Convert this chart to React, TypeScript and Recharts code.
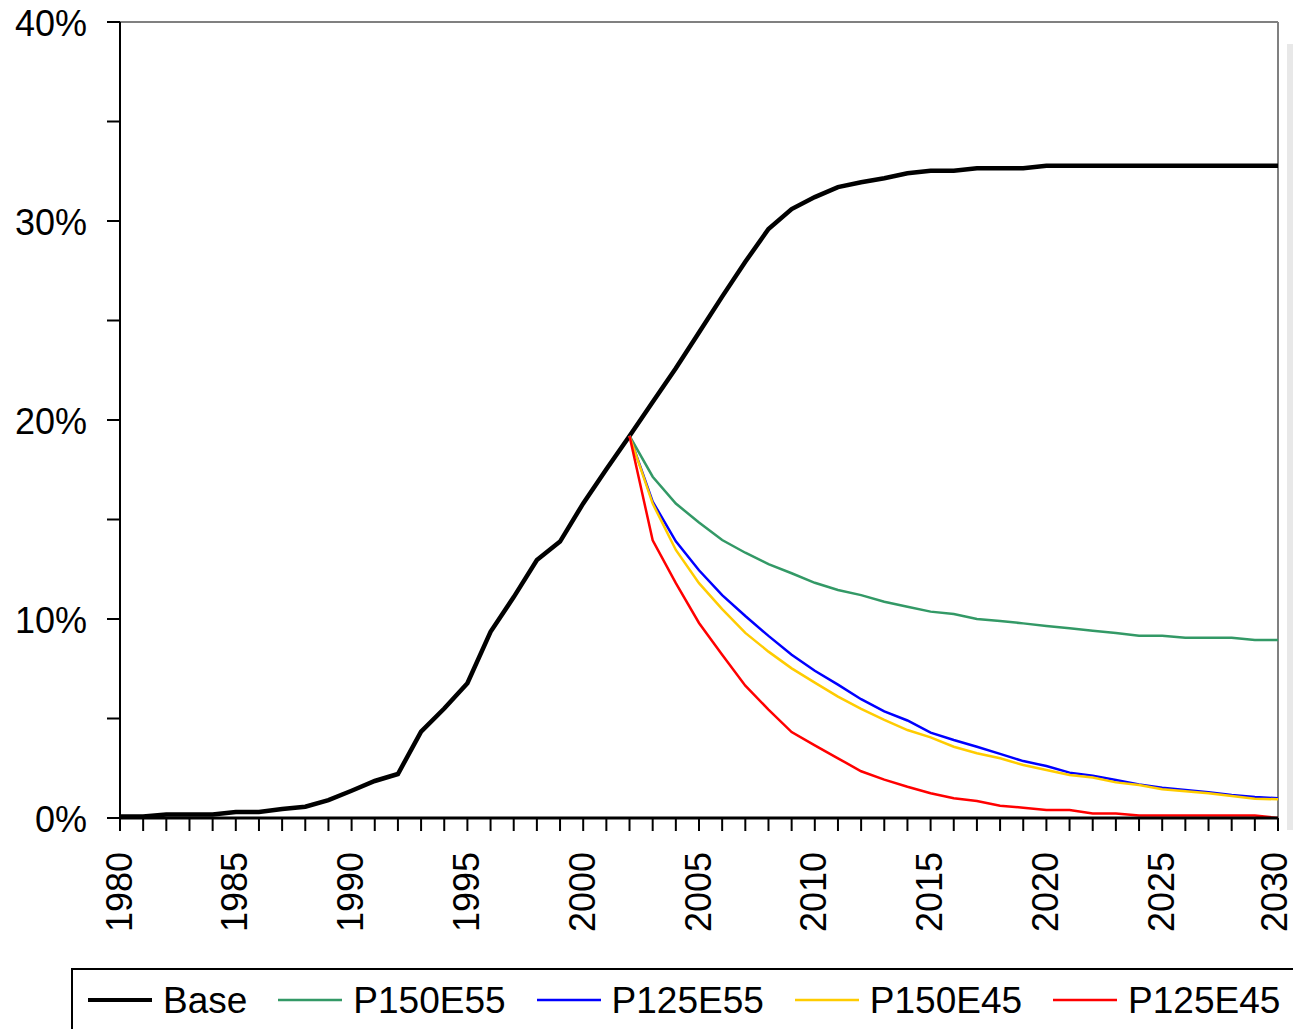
import React from "react";
import { LineChart, Line, XAxis, YAxis, ReferenceLine } from "recharts";

const FONT = "'Liberation Sans', Arial, sans-serif";

const YEARS = Array.from({ length: 51 }, (_, i) => 1980 + i);
const Y_TICKS = [0, 5, 10, 15, 20, 25, 30, 35, 40];
const SCENARIO_START = 2002;

const BASE = [
  0.07, 0.07, 0.18, 0.18, 0.18, 0.3, 0.3, 0.45, 0.57, 0.9,
  1.37, 1.86, 2.21, 4.34, 5.5, 6.77, 9.36, 11.1, 12.96, 13.89,
  15.81, 17.52, 19.2, 20.9, 22.6, 24.4, 26.2, 27.95, 29.6, 30.6,
  31.2, 31.7, 31.95, 32.15, 32.4, 32.53, 32.53, 32.65, 32.65, 32.65,
  32.78, 32.78, 32.78, 32.78, 32.78, 32.78, 32.78, 32.78, 32.78, 32.78, 32.78,
];

// 2002 - 2030
const P150E55 = [
  19.2, 17.15, 15.8, 14.85, 13.97, 13.33, 12.76, 12.3, 11.82, 11.46,
  11.2, 10.87, 10.62, 10.37, 10.25, 10.0, 9.9, 9.78, 9.65, 9.53,
  9.41, 9.3, 9.16, 9.16, 9.06, 9.06, 9.06, 8.94, 8.94,
];
const P125E55 = [
  19.2, 15.9, 13.9, 12.45, 11.2, 10.15, 9.15, 8.2, 7.4, 6.7,
  5.97, 5.36, 4.9, 4.29, 3.92, 3.58, 3.22, 2.86, 2.61, 2.28,
  2.13, 1.91, 1.69, 1.52, 1.41, 1.29, 1.16, 1.06, 0.99,
];
const P150E45 = [
  19.2, 15.8, 13.47, 11.8, 10.5, 9.3, 8.36, 7.52, 6.8, 6.1,
  5.48, 4.93, 4.42, 4.05, 3.58, 3.25, 3.0, 2.66, 2.41, 2.16,
  2.04, 1.79, 1.66, 1.44, 1.34, 1.24, 1.11, 0.97, 0.94,
];
const P125E45 = [
  19.2, 13.95, 11.8, 9.8, 8.2, 6.65, 5.45, 4.32, 3.65, 3.0,
  2.35, 1.93, 1.57, 1.24, 0.99, 0.85, 0.62, 0.52, 0.4, 0.4,
  0.23, 0.23, 0.12, 0.12, 0.12, 0.12, 0.12, 0.12, 0.0,
];

const SERIES = [
  { key: "base", name: "Base", color: "#000000", width: 4.5, values: BASE, start: 1980 },
  { key: "p150e55", name: "P150E55", color: "#339966", width: 2.5, values: P150E55, start: SCENARIO_START },
  { key: "p125e55", name: "P125E55", color: "#0000ff", width: 2.5, values: P125E55, start: SCENARIO_START },
  { key: "p150e45", name: "P150E45", color: "#ffcc00", width: 2.5, values: P150E45, start: SCENARIO_START },
  { key: "p125e45", name: "P125E45", color: "#ff0000", width: 2.5, values: P125E45, start: SCENARIO_START },
];

const data = YEARS.map((year) => {
  const row: Record<string, number | null> = { year };
  SERIES.forEach((s) => {
    const idx = year - s.start;
    row[s.key] = idx >= 0 && idx < s.values.length ? s.values[idx] : null;
  });
  return row;
});

function YTick(props: any) {
  const { x, y, payload } = props;
  const v = payload.value;
  return (
    <g>
      <line x1={x - 13} x2={x} y1={y} y2={y} stroke="#000" strokeWidth={2} />
      {v % 10 === 0 && (
        <text x={x - 33} y={y} dy="0.38em" textAnchor="end" fontSize={36} fontFamily={FONT} fill="#000">
          {v}%
        </text>
      )}
    </g>
  );
}

function XTick(props: any) {
  const { x, y, payload } = props;
  const year = payload.value;
  // last label sits against the right edge; pull it in a touch so it stays whole
  const tx = year === YEARS[YEARS.length - 1] ? x - 3 : x;
  return (
    <g>
      <line x1={x} x2={x} y1={y} y2={y + 13} stroke="#000" strokeWidth={2} />
      {year % 5 === 0 && (
        <text
          transform={`translate(${tx},${y + 34}) rotate(-90)`}
          dy="0.32em"
          textAnchor="end"
          fontSize={36}
          fontFamily={FONT}
          fill="#000"
        >
          {year}
        </text>
      )}
    </g>
  );
}

function ChartLegend() {
  return (
    <div
      style={{
        position: "absolute",
        left: 71,
        top: 968,
        width: 1260,
        height: 90,
        border: "2px solid #000",
        boxSizing: "border-box",
        display: "flex",
        alignItems: "flex-start",
        paddingLeft: 15,
        fontFamily: FONT,
        fontSize: 37,
        color: "#000",
      }}
    >
      {SERIES.map((s) => (
        <div key={s.key} style={{ display: "flex", alignItems: "center", height: 60, marginRight: 31 }}>
          <svg width={64} height={10} style={{ marginRight: 11 }}>
            <line x1={0} x2={64} y1={5} y2={5} stroke={s.color} strokeWidth={s.key === "base" ? 4 : 2.5} />
          </svg>
          <span style={{ lineHeight: 1 }}>{s.name}</span>
        </div>
      ))}
    </div>
  );
}

export default function App() {
  return (
    <div
      style={{
        position: "absolute",
        left: 0,
        top: 0,
        width: 1293,
        height: 1029,
        overflow: "hidden",
        background: "#fff",
      }}
    >
      <div
        style={{ position: "absolute", left: 1287, top: 44, width: 6, height: 786, background: "#e8e8e8" }}
      />
      <LineChart width={1293} height={1029} data={data} margin={{ top: 22, right: 15, bottom: 0, left: 0 }}>
        <ReferenceLine y={40} stroke="#808080" strokeWidth={2} />
        <ReferenceLine x={2030} stroke="#808080" strokeWidth={2} />
        <XAxis
          dataKey="year"
          type="number"
          domain={[1980, 2030]}
          ticks={YEARS}
          interval={0}
          height={211}
          tickLine={false}
          tickSize={0}
          tickMargin={0}
          tick={<XTick />}
          axisLine={{ stroke: "#000", strokeWidth: 3 }}
        />
        <YAxis
          type="number"
          domain={[0, 40]}
          ticks={Y_TICKS}
          interval={0}
          width={120}
          tickLine={false}
          tickSize={0}
          tickMargin={0}
          tick={<YTick />}
          axisLine={{ stroke: "#000", strokeWidth: 2 }}
        />
        {SERIES.map((s) => (
          <Line
            key={s.key}
            dataKey={s.key}
            name={s.name}
            type="linear"
            stroke={s.color}
            strokeWidth={s.width}
            dot={false}
            activeDot={false}
            connectNulls={false}
            isAnimationActive={false}
          />
        ))}
      </LineChart>
      <ChartLegend />
    </div>
  );
}
